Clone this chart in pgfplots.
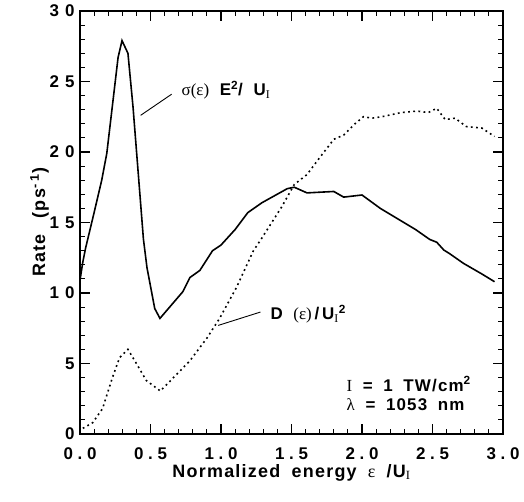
\documentclass[border=0pt]{standalone}
\usepackage{fontspec}
\setmainfont{Liberation Sans}[LetterSpace=7, WordSpace=1.8]
\newfontfamily\symf{Liberation Serif}
\usepackage{pgfplots}
\pgfplotsset{compat=1.18}
\newcommand{\fs}{\fontsize{17}{20}\selectfont}
\newcommand{\fl}{\fontsize{18}{21}\selectfont}
\begin{document}
\begin{tikzpicture}
\path[use as bounding box] (-80bp,-68bp) rectangle (444bp,434bp);
\begin{axis}[
  at={(0,0)}, anchor=south west,
  scale only axis, width=423bp, height=423bp,
  xmin=0, xmax=3, ymin=0, ymax=30,
  axis line style={line width=1.4pt},
  tick style={line width=1.1pt, black},
  tick align=inside,
  major tick length=10bp, minor tick length=5bp,
  xtick={0,0.5,1,1.5,2,2.5,3},
  xticklabels={0\;.\;0,0\;.\;5,1\;.\;0,1\;.\;5,2\;.\;0,2\;.\;5,3\;.\;0},
  minor x tick num=4,
  ytick={0,5,10,15,20,25,30},
  yticklabels={0,5,1\hspace{0.35em}0,1\hspace{0.35em}5,2\hspace{0.35em}0,2\hspace{0.35em}5,3\hspace{0.35em}0},
  minor y tick num=4,
  tick label style={font=\fs\bfseries},
  xticklabel style={yshift=-10bp},
  yticklabel style={xshift=-2bp},
  xlabel={\fl\bfseries Normalized energy {\symf\mdseries ε} /U\textsubscript{\symf\mdseries I}},
  ylabel={\fl\bfseries Rate\hspace{0.9em}(ps\textsuperscript{-\hspace{0.25em}1})},
  xlabel style={yshift=2bp},
  ylabel style={yshift=-6bp},
  clip=false,
]
\addplot[black, line width=1.6pt] coordinates {
(0,10.9) (0.02,12.2) (0.04,13.2) (0.10,15.7) (0.154,18.0) (0.19,19.9) (0.27,26.7) (0.298,27.9) (0.34,27.0)
(0.376,23.2) (0.45,13.8) (0.475,11.8) (0.53,8.9) (0.567,8.2) (0.73,10.1) (0.78,11.1)
(0.85,11.6) (0.94,13.0) (1.0,13.4) (1.1,14.5) (1.19,15.7) (1.29,16.4) (1.47,17.4)
(1.52,17.5) (1.61,17.1) (1.80,17.2) (1.87,16.8) (2.0,16.95) (2.13,16.0) (2.38,14.5)
(2.48,13.8) (2.53,13.6) (2.58,13.05) (2.62,12.8) (2.72,12.1) (2.85,11.35) (2.94,10.8)
};
\addplot[black, line width=1.6pt, dash pattern=on 1.8pt off 3.4pt] coordinates {
(0.02,0.4) (0.09,0.8) (0.16,1.8) (0.23,4.0) (0.28,5.4) (0.34,6.0) (0.40,5.0)
(0.47,3.8) (0.57,3.05) (0.66,3.97) (0.78,5.2) (0.90,6.8) (0.99,8.2) (1.11,10.4)
(1.23,13.0) (1.29,13.9) (1.43,16.1) (1.52,17.7) (1.61,18.4) (1.70,19.6) (1.80,20.9)
(1.87,21.2) (1.95,22.0) (2.01,22.5) (2.07,22.4) (2.14,22.5) (2.28,22.8) (2.39,22.9)
(2.47,22.8) (2.53,23.1) (2.59,22.3) (2.66,22.4) (2.74,21.8) (2.85,21.7) (2.94,21.1)
};
\draw[line width=0.9pt] (axis cs:0.43,22.6) -- (axis cs:0.65,24.1);
\draw[line width=0.9pt] (axis cs:0.98,7.7) -- (axis cs:1.28,8.65);
\node[anchor=west, font=\fs, inner sep=0pt] at (axis cs:0.72,24.4)
  {{\symf σ(ε)} \bfseries E\textsuperscript{2}/ U\textsubscript{\symf\mdseries I}};
\node[anchor=west, font=\fs, inner sep=0pt] at (axis cs:1.35,8.5)
  {\bfseries D {\symf\mdseries (ε)}\,/\,U\textsubscript{\symf\mdseries I}\textsuperscript{2}};
\node[anchor=west, align=left, font=\fs\bfseries, inner sep=0pt] at (axis cs:1.89,2.85)
  {{\symf\mdseries I} = 1 TW/cm\textsuperscript{2}\\{\symf\mdseries λ} = 1053 nm};
\end{axis}
\end{tikzpicture}
\end{document}
